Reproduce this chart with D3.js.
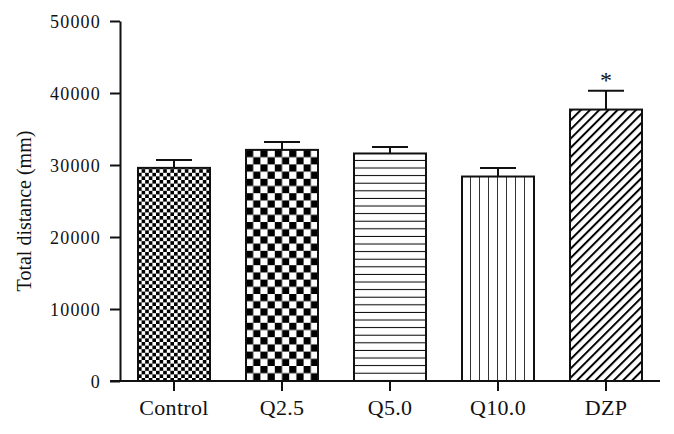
<!DOCTYPE html>
<html><head><meta charset="utf-8">
<script src="https://cdn.jsdelivr.net/npm/d3@7"></script>
<style>body{margin:0;background:#fff}svg{display:block}text{font-family:"Liberation Serif","Times New Roman",serif;fill:#111}</style>
</head><body>
<script>
const categories = ["Control","Q2.5","Q5.0","Q10.0","DZP"];
const means = [29600, 32100, 31600, 28400, 37700];
const errors = [1100, 1100, 900, 1200, 2600];
const significance = ["","","","","*"];
const yTicks = [0,10000,20000,30000,40000,50000];
const patterns = ["fineChecker","checker","hlines","vlines","diag"];

const W=674,H=434;
const svg=d3.select("body").append("svg").attr("width",W).attr("height",H);
const defs=svg.append("defs");
// fine checker
let p=defs.append("pattern").attr("id","fineChecker").attr("patternUnits","userSpaceOnUse").attr("width",7.2).attr("height",7.2).attr("x",138).attr("y",0);
p.append("rect").attr("width",7.2).attr("height",7.2).attr("fill","#fff");
p.append("rect").attr("width",3.6).attr("height",3.6).attr("fill","#000");
p.append("rect").attr("x",3.6).attr("y",3.6).attr("width",3.6).attr("height",3.6).attr("fill","#000");
// coarse checker
p=defs.append("pattern").attr("id","checker").attr("patternUnits","userSpaceOnUse").attr("width",14.4).attr("height",14.4).attr("x",246).attr("y",150);
p.append("rect").attr("width",14.4).attr("height",14.4).attr("fill","#fff");
p.append("rect").attr("width",7.2).attr("height",7.2).attr("fill","#000");
p.append("rect").attr("x",7.2).attr("y",7.2).attr("width",7.2).attr("height",7.2).attr("fill","#000");
// horizontal lines
p=defs.append("pattern").attr("id","hlines").attr("patternUnits","userSpaceOnUse").attr("width",10).attr("height",7.6).attr("y",153.3);
p.append("rect").attr("width",10).attr("height",7.6).attr("fill","#fff");
p.append("rect").attr("y",6.6).attr("width",10).attr("height",1.6).attr("fill","#000");
// vertical lines
p=defs.append("pattern").attr("id","vlines").attr("patternUnits","userSpaceOnUse").attr("width",9).attr("height",10).attr("x",462);
p.append("rect").attr("width",9).attr("height",10).attr("fill","#fff");
p.append("rect").attr("x",8.2).attr("width",1.6).attr("height",10).attr("fill","#000");
// diagonal
p=defs.append("pattern").attr("id","diag").attr("patternUnits","userSpaceOnUse").attr("width",6.5).attr("height",6.5).attr("patternTransform","rotate(45)");
p.append("rect").attr("width",6.5).attr("height",6.5).attr("fill","#fff");
p.append("rect").attr("width",2).attr("height",6.5).attr("fill","#000");

const x=d3.scaleBand().domain(categories).range([120,660]).paddingInner(1/3).paddingOuter(1/6);
const y=d3.scaleLinear().domain([0,50000]).range([381,21]);

// bars
svg.selectAll("rect.bar").data(categories).enter().append("rect").attr("class","bar")
  .attr("x",d=>x(d)).attr("width",x.bandwidth())
  .attr("y",(d,i)=>y(means[i])).attr("height",(d,i)=>y(0)-y(means[i]))
  .attr("fill",(d,i)=>"url(#"+patterns[i]+")").attr("stroke","#111").attr("stroke-width",2);

// error bars
const eb=svg.append("g").attr("stroke","#111").attr("stroke-width",2);
categories.forEach((c,i)=>{
  const cx=x(c)+x.bandwidth()/2;
  eb.append("line").attr("x1",cx).attr("x2",cx).attr("y1",y(means[i])).attr("y2",y(means[i]+errors[i]));
  eb.append("line").attr("x1",cx-18).attr("x2",cx+18).attr("y1",y(means[i]+errors[i])).attr("y2",y(means[i]+errors[i]));
  if(significance[i]) svg.append("text").attr("x",cx).attr("y",y(means[i]+errors[i])-3).attr("text-anchor","middle").attr("font-size",24).text(significance[i]);
});

// y axis
const ya=svg.append("g").attr("transform","translate(120,0)")
  .call(d3.axisLeft(y).tickValues(yTicks).tickFormat(d3.format("d")).tickSize(10).tickSizeOuter(0).tickPadding(9));
ya.select(".domain").attr("stroke","#111").attr("stroke-width",2);
ya.selectAll(".tick line").attr("stroke","#111").attr("stroke-width",2);
ya.selectAll(".tick text").attr("font-family","Liberation Serif, serif").attr("font-size",18).attr("letter-spacing",1.2).attr("fill","#111").attr("dy","0.34em");

// x axis
const xa=svg.append("g").attr("transform","translate(0,381)")
  .call(d3.axisBottom(x).tickSize(10).tickSizeOuter(0).tickPadding(8));
xa.select(".domain").remove();
xa.append("line").attr("x1",110).attr("x2",660).attr("stroke","#111").attr("stroke-width",2);
xa.selectAll(".tick line").attr("stroke","#111").attr("stroke-width",2);
xa.selectAll(".tick text").attr("font-family","Liberation Serif, serif").attr("font-size",22).attr("letter-spacing",0.3).attr("fill","#111");

// y title
svg.append("text").attr("transform","translate(31,211) rotate(-90)").attr("text-anchor","middle")
  .attr("font-size",20).text("Total distance (mm)");
</script>
</body></html>
